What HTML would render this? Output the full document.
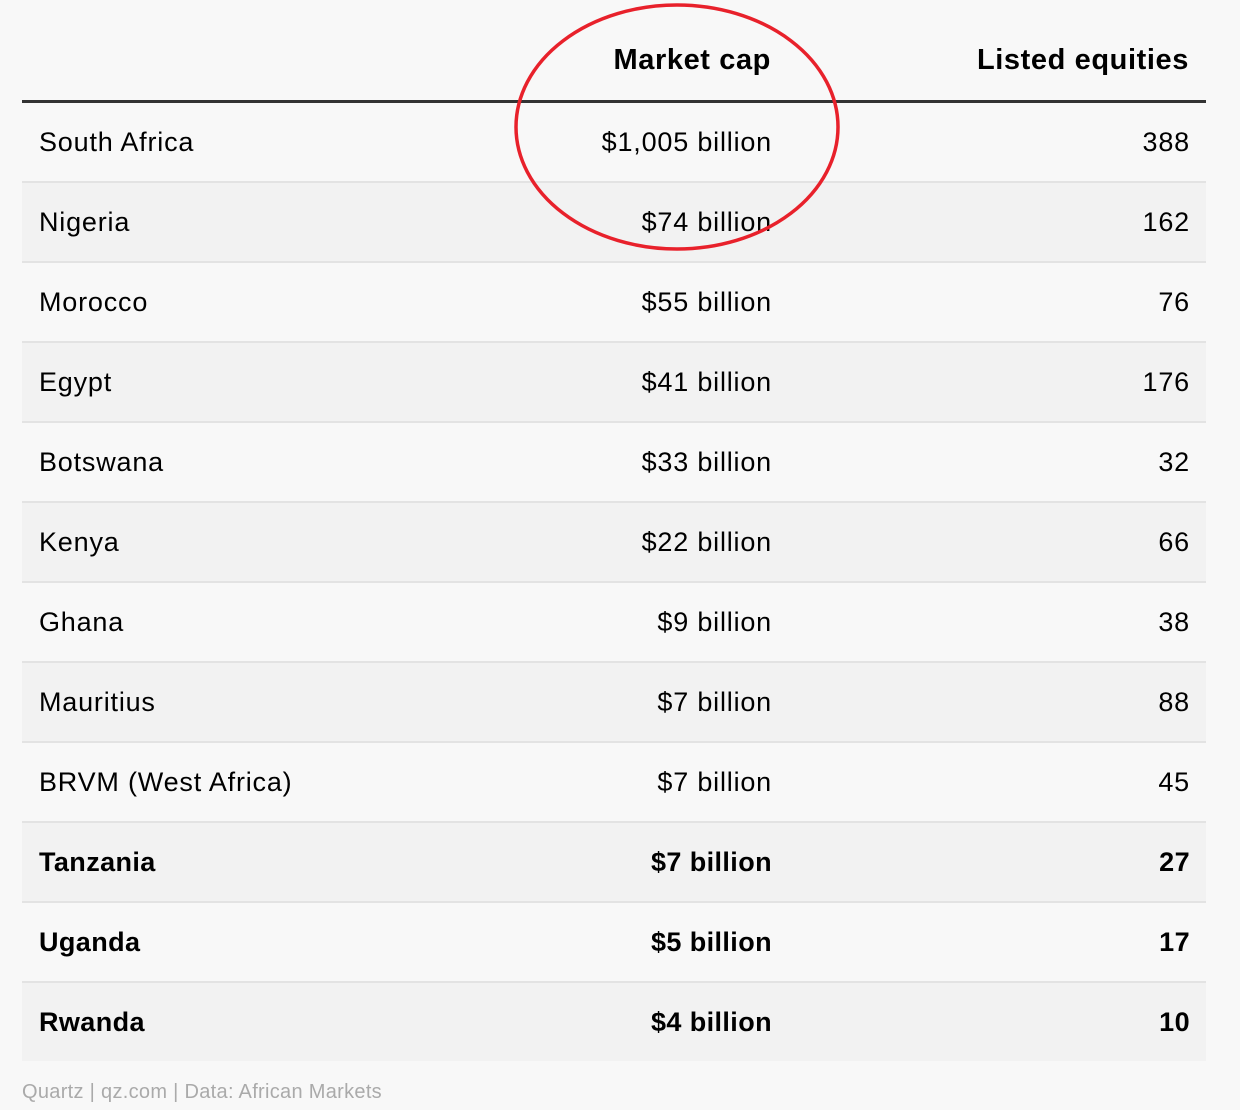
<!DOCTYPE html>
<html><head><style>
body{margin:0;width:1240px;height:1110px;background:#f8f8f8;overflow:hidden;position:relative;font-family:"Liberation Sans",sans-serif;color:#000}
.h{position:absolute;top:40px;font-weight:bold;font-size:29px;line-height:40px;letter-spacing:0.6px}
.line{position:absolute;left:22px;width:1184px;top:100px;height:3px;background:#333}
.row{position:absolute;left:22px;width:1184px;height:78px;border-bottom:2px solid #e3e3e3;font-size:27px;line-height:78px;letter-spacing:0.8px}
.row.g{background:#f2f2f2}
.row span{position:absolute}
.c1{left:17px}.c2{right:434px}.c3{right:16px}
.b{font-weight:bold;letter-spacing:0.4px}
.foot{position:absolute;left:22px;top:1081px;font-size:20px;color:#aaa;letter-spacing:0.3px}
</style></head><body>
<div class="h" style="right:469px">Market cap</div>
<div class="h" style="right:51px">Listed equities</div>
<div class="line"></div>
<div class="row" style="top:103px"><span class="c1">South Africa</span><span class="c2">$1,005 billion</span><span class="c3">388</span></div>
<div class="row g" style="top:183px"><span class="c1">Nigeria</span><span class="c2">$74 billion</span><span class="c3">162</span></div>
<div class="row" style="top:263px"><span class="c1">Morocco</span><span class="c2">$55 billion</span><span class="c3">76</span></div>
<div class="row g" style="top:343px"><span class="c1">Egypt</span><span class="c2">$41 billion</span><span class="c3">176</span></div>
<div class="row" style="top:423px"><span class="c1">Botswana</span><span class="c2">$33 billion</span><span class="c3">32</span></div>
<div class="row g" style="top:503px"><span class="c1">Kenya</span><span class="c2">$22 billion</span><span class="c3">66</span></div>
<div class="row" style="top:583px"><span class="c1">Ghana</span><span class="c2">$9 billion</span><span class="c3">38</span></div>
<div class="row g" style="top:663px"><span class="c1">Mauritius</span><span class="c2">$7 billion</span><span class="c3">88</span></div>
<div class="row" style="top:743px"><span class="c1">BRVM (West Africa)</span><span class="c2">$7 billion</span><span class="c3">45</span></div>
<div class="row g b" style="top:823px"><span class="c1">Tanzania</span><span class="c2">$7 billion</span><span class="c3">27</span></div>
<div class="row b" style="top:903px"><span class="c1">Uganda</span><span class="c2">$5 billion</span><span class="c3">17</span></div>
<div class="row g b" style="top:983px;border-bottom:none"><span class="c1">Rwanda</span><span class="c2">$4 billion</span><span class="c3">10</span></div>
<div class="foot">Quartz | qz.com | Data: African Markets</div>
<svg style="position:absolute;left:0;top:0" width="1240" height="1110"><ellipse cx="677" cy="127" rx="161" ry="122" fill="none" stroke="#e8212b" stroke-width="3.5"/></svg>
</body></html>
